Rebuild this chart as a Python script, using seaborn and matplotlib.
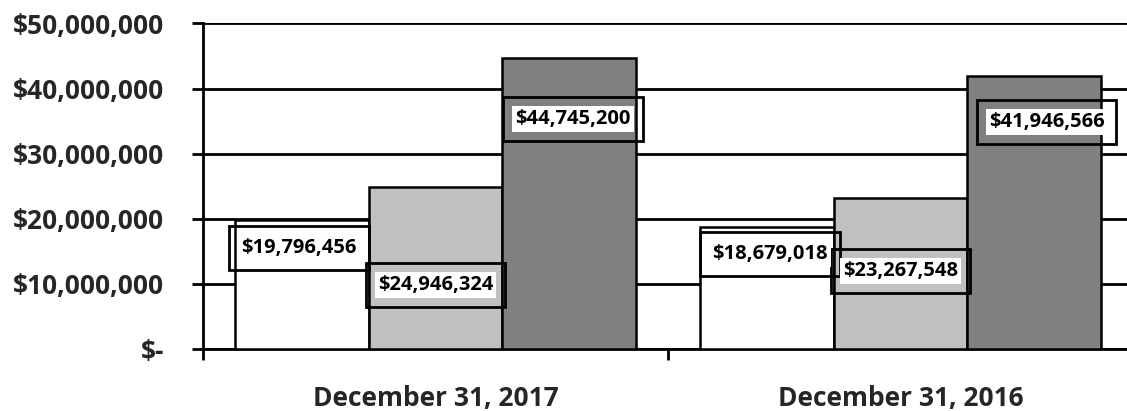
import matplotlib
matplotlib.use("Agg")
import matplotlib.pyplot as plt
import seaborn as sns
import pandas as pd
from matplotlib.ticker import FuncFormatter, FixedLocator

categories = ["December 31, 2017", "December 31, 2016"]
series = ["Series A", "Series B", "Series C"]
values_a = [19796456, 18679018]
values_b = [24946324, 23267548]
values_c = [44745200, 41946566]
yticks = [0, 10000000, 20000000, 30000000, 40000000, 50000000]

colors = ["#FFFFFF", "#C0C0C0", "#808080"]
# label offsets (points) relative to bar top center: (dx, dy)
label_offsets = [
    [(-2, -20), (2, -19)],
    [(0, -71), (0, -53)],
    [(3, -44), (9, -33)],
]

rows = []
for s, vals in zip(series, [values_a, values_b, values_c]):
    for c, v in zip(categories, vals):
        rows.append({"date": c, "series": s, "value": v})
df = pd.DataFrame(rows)

sns.set_style("white")
plt.rcParams["font.family"] = ["Open Sans", "DejaVu Sans"]

fig = plt.figure(figsize=(11.27, 4.11), dpi=100)
ax = fig.add_axes([203 / 1127, 1 - 349 / 411, 930 / 1127, (349 - 23.5) / 411])

width = 400.5 / 465
sns.barplot(data=df, x="date", y="value", hue="series", hue_order=series,
            order=categories, palette=colors, edgecolor="black", linewidth=1.8,
            width=width, legend=False, ax=ax, saturation=1, zorder=3)

ax.set_ylim(0, 50000000)
ax.set_xlim(-0.5, 1.5)
ax.yaxis.set_major_locator(FixedLocator(yticks))
ax.yaxis.set_major_formatter(FuncFormatter(lambda v, p: "$-" if v == 0 else f"${v:,.0f}"))
ax.grid(axis="y", color="black", linewidth=2, zorder=0)
ax.set_axisbelow(True)
for sp in ["top", "right"]:
    ax.spines[sp].set_visible(False)
for sp in ["left", "bottom"]:
    ax.spines[sp].set_color("black")
    ax.spines[sp].set_linewidth(2)
ax.tick_params(axis="y", which="major", length=8, width=2, color="black",
               labelsize=19, pad=20, left=True)
ax.tick_params(axis="x", which="major", length=0, labelsize=19, pad=26)
ax.set_xticks([-0.5, 0.5, 1.5], minor=True)
ax.tick_params(axis="x", which="minor", length=8, width=2, color="black", bottom=True)
for lab in ax.get_xticklabels() + ax.get_yticklabels():
    lab.set_fontweight("bold")
ax.set_xlabel("")
ax.set_ylabel("")

bw = width / 3
for j, vals in enumerate([values_a, values_b, values_c]):
    for i, v in enumerate(vals):
        x = i + (j - 1) * bw
        dx, dy = label_offsets[j][i]
        txt = f"${v:,.0f}"
        # outer frame
        ax.annotate(txt, xy=(x, v), xytext=(dx, dy), textcoords="offset points",
                    ha="center", va="center", fontsize=14.5, fontweight="bold", zorder=5,
                    color="none",
                    bbox=dict(boxstyle="square,pad=0.6", fc="none", ec="black", lw=2))
        # text with tight white background
        ax.annotate(txt, xy=(x, v), xytext=(dx, dy), textcoords="offset points",
                    ha="center", va="center", fontsize=14.5, fontweight="bold", zorder=6,
                    color="black",
                    bbox=dict(boxstyle="square,pad=0.15", fc="white", ec="none"))

fig.savefig("out.png", dpi=100)
